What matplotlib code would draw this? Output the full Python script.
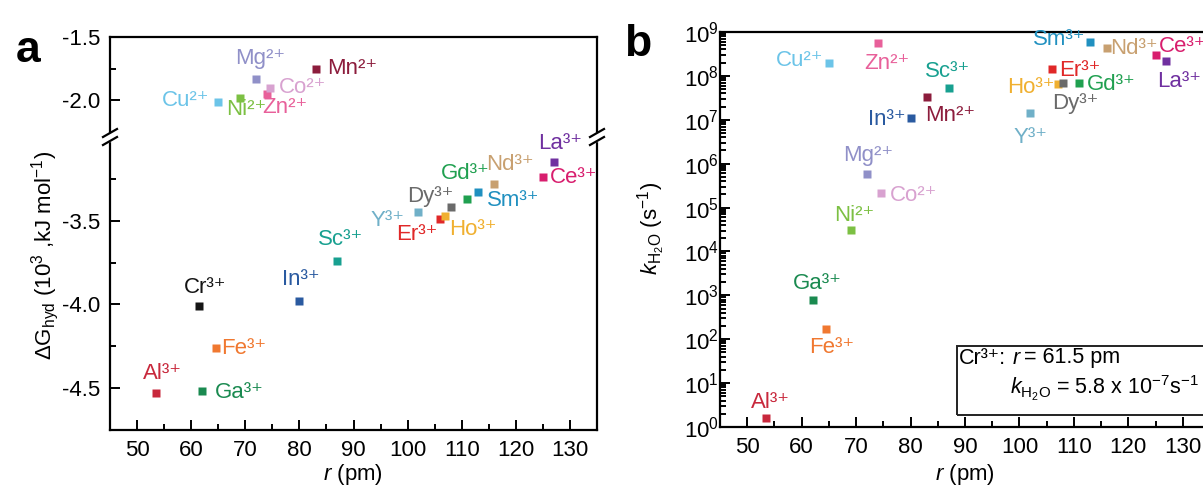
"""
Hydration free energy and water-exchange rate vs ionic radius (two panels).
"""

import matplotlib
matplotlib.use("Agg")
import matplotlib.pyplot as plt
from matplotlib.lines import Line2D
from matplotlib.patches import Rectangle
from matplotlib.ticker import MultipleLocator, LogLocator, FixedLocator

plt.rcParams["font.family"] = ["Liberation Sans", "DejaVu Sans"]
plt.rcParams["mathtext.fontset"] = "custom"
plt.rcParams["mathtext.rm"] = "Liberation Sans"
plt.rcParams["mathtext.it"] = "Liberation Sans:italic"
plt.rcParams["mathtext.bf"] = "Liberation Sans:bold"
plt.rcParams["mathtext.sf"] = "Liberation Sans"
plt.rcParams["mathtext.default"] = "regular"
plt.rcParams["axes.unicode_minus"] = False

# ---- data ----
IONS    = ["Al", "Cr", "Ga", "Fe", "Cu", "Ni", "Mg", "Zn", "Co", "In", "Mn",
           "Sc", "Y", "Er", "Ho", "Dy", "Gd", "Sm", "Nd", "Ce", "La"]
CHARGE  = ["³⁺", "³⁺", "³⁺", "³⁺", "²⁺", "²⁺", "²⁺", "²⁺", "²⁺", "³⁺", "²⁺",
           "³⁺", "³⁺", "³⁺", "³⁺", "³⁺", "³⁺", "³⁺", "³⁺", "³⁺", "³⁺"]
R_PM    = [53.5, 61.5, 62.0, 64.5, 65.0, 69.0, 72.0, 74.0, 74.5, 80.0, 83.0,
           87.0, 102.0, 106.0, 107.0, 108.0, 111.0, 113.0, 116.0, 125.0, 127.0]
DG_HYD  = [-4.53, -4.01, -4.52, -4.26, -2.01, -1.98, -1.83, -1.95, -1.90, -3.98, -1.75,
           -3.74, -3.45, -3.49, -3.47, -3.42, -3.37, -3.33, -3.28, -3.24, -3.15]
# water exchange rate, Cr3+ is not plotted (None)
K_H2O   = [1.6, None, 780, 170, 2.0e8, 3.1e4, 5.8e5, 5.6e8, 2.1e5, 1.1e7, 3.3e7,
           5.3e7, 1.4e7, 1.4e8, 6.5e7, 6.8e7, 6.8e7, 5.9e8, 4.3e8, 3.0e8, 2.2e8]

COLORS = {
    "Al": "#c8283c", "Cr": "#151515", "Ga": "#1a8a50", "Fe": "#f07830",
    "Cu": "#6cc4e8", "Ni": "#7cc043", "Mg": "#9090c8", "Zn": "#e8609a",
    "Co": "#d8a2d0", "In": "#2a5aa0", "Mn": "#8c1c3c", "Sc": "#18a090",
    "Y": "#70b0c8", "Er": "#e02828", "Ho": "#f0b030", "Dy": "#6a6a6a",
    "Gd": "#20a050", "Sm": "#2090c0", "Nd": "#c8a070", "Ce": "#d81e6e",
    "La": "#7030a0",
}

# label offsets in pixels (dx, dy, ha)
LAB_A = {
    "Mg": (4, 20, "center"), "Cu": (-9, 1, "right"), "Ni": (-14, -12, "left"),
    "Zn": (-5, -14, "left"), "Co": (9, 0, "left"), "Mn": (12, 0, "left"),
    "La": (6, 19, "center"), "Ce": (7, 0, "left"), "Nd": (16, 19, "center"),
    "Gd": (-2, 25, "center"), "Sm": (9, -8, "left"), "Dy": (-21, 11, "center"),
    "Y": (-31, -8, "center"), "Er": (-23, -15, "center"), "Ho": (4, -14, "left"),
    "Sc": (3, 21, "center"), "In": (1, 22, "center"), "Cr": (6, 19, "center"),
    "Fe": (6, -1, "left"), "Al": (6, 20, "center"), "Ga": (13, -1, "left"),
}
LAB_B = {
    "Cu": (-6, 2, "right"), "Zn": (9, -20, "center"), "In": (-5, -2, "right"),
    "Mn": (-2, -18, "left"), "Sc": (-1, 16, "center"), "Mg": (1, 19, "center"),
    "Co": (9, -2, "left"), "Ni": (4, 14, "center"), "Ga": (5, 17, "center"),
    "Fe": (6, -18, "center"), "Al": (4, 16, "center"), "Y": (0, -24, "center"),
    "Sm": (-5, 3, "right"), "Nd": (4, 0, "left"), "Ce": (3, 8, "left"),
    "La": (13, -21, "center"), "Er": (7, -1, "left"), "Ho": (-3, -3, "right"),
    "Dy": (12, -20, "center"), "Gd": (8, -1, "left"),
}

W, H = 1203, 486
fig = plt.figure(figsize=(W / 100, H / 100), dpi=100)


def px_axes(left, top, right, bottom):
    return fig.add_axes([left / W, 1 - bottom / H, (right - left) / W, (bottom - top) / H])


def ftext(px, py, s, **kw):
    return fig.text(px / W, 1 - py / H, s, **kw)


def style(ax):
    for s in ax.spines.values():
        s.set_linewidth(1.6)
    ax.tick_params(which="both", direction="in", top=False, right=False,
                   labelsize=16, width=1.4)
    ax.tick_params(which="major", length=7, pad=7)
    ax.tick_params(which="minor", length=4)


def label(ax, name, charge, x, y, off):
    dx, dy, ha = off
    ax.annotate(name + charge, (x, y), xytext=(dx, dy),
                textcoords="offset pixels", ha=ha, va="center",
                fontsize=16, color=COLORS[name], annotation_clip=False)


# ---- panel a: broken y axis ----
ax_up = px_axes(110, 37, 597, 137)
ax_lo = px_axes(110, 137, 597, 430)
for ax in (ax_up, ax_lo):
    style(ax)
    ax.set_xlim(45, 135)
    ax.xaxis.set_major_locator(MultipleLocator(10))
    ax.xaxis.set_minor_locator(MultipleLocator(5))
ax_up.set_ylim(-2.29, -1.5)
ax_up.yaxis.set_major_locator(FixedLocator([-2.0, -1.5]))
ax_up.yaxis.set_minor_locator(FixedLocator([-1.75]))
ax_up.set_yticklabels(["-2.0", "-1.5"])
ax_up.spines["bottom"].set_visible(False)
ax_up.tick_params(axis="x", which="both", bottom=False, labelbottom=False)
ax_lo.set_ylim(-4.75, -3.0)
ax_lo.yaxis.set_major_locator(FixedLocator([-4.5, -4.0, -3.5]))
ax_lo.yaxis.set_minor_locator(FixedLocator([-4.25, -3.75, -3.25]))
ax_lo.set_yticklabels(["-4.5", "-4.0", "-3.5"])
ax_lo.spines["top"].set_visible(False)

for name, ch, r, g in zip(IONS, CHARGE, R_PM, DG_HYD):
    ax = ax_up if g > -2.5 else ax_lo
    ax.plot(r, g, "s", ms=5.2, color=COLORS[name], mec="none")
    label(ax, name, ch, r, g, LAB_A[name])


def break_mark(px, py):
    f = lambda x, y: (x / W, 1 - y / H)
    gap = Rectangle(f(px - 2, py + 4), 4 / W, 8 / H, transform=fig.transFigure,
                    color="white", zorder=10)
    fig.add_artist(gap)
    for d in (-4, 4):
        x0, y0 = f(px - 7, py + 4 + d)
        x1, y1 = f(px + 7, py - 4 + d)
        fig.add_artist(Line2D([x0, x1], [y0, y1], transform=fig.transFigure,
                              color="black", lw=1.6, zorder=11))


break_mark(110, 137)
break_mark(597, 137)

ftext(45, 255, "ΔG$_{hyd}$ (10$^{3}$ ,kJ mol$^{-1}$)",
      rotation=90, ha="center", va="center", fontsize=16)
ftext(353, 474, "$\\mathit{r}$ (pm)", ha="center", va="center", fontsize=16)
ftext(28, 50, "a", ha="center", va="center", fontsize=32, fontweight="bold")

# ---- panel b: log scale ----
axb = px_axes(720, 32, 1210, 427)
style(axb)
axb.set_yscale("log")
axb.set_xlim(45, 135)
axb.set_ylim(1, 1e9)
axb.xaxis.set_major_locator(MultipleLocator(10))
axb.xaxis.set_minor_locator(MultipleLocator(5))
axb.yaxis.set_major_locator(LogLocator(base=10, numticks=12))
axb.yaxis.set_minor_locator(LogLocator(base=10, subs=range(2, 10), numticks=12))
axb.tick_params(axis="y", which="major", pad=1)

for name, ch, r, k in zip(IONS, CHARGE, R_PM, K_H2O):
    if k is None:
        continue
    axb.plot(r, k, "s", ms=5.2, color=COLORS[name], mec="none")
    label(axb, name, ch, r, k, LAB_B[name])

ftext(652, 228, "$\\mathit{k}_{H_2O}$ (s$^{-1}$)",
      rotation=90, ha="center", va="center", fontsize=16)
ftext(965, 474, "$\\mathit{r}$ (pm)", ha="center", va="center", fontsize=16)
ftext(638, 45, "b", ha="center", va="center", fontsize=32, fontweight="bold")

# note box about Cr3+
box = Rectangle((957 / W, 1 - 415 / H), 260 / W, 69 / H, transform=fig.transFigure,
                fill=False, ec="#222222", lw=1.4)
fig.add_artist(box)
ftext(959, 358, "Cr³⁺:", ha="left", va="center", fontsize=15.5)
ftext(1013, 358, "r", ha="left", va="center", fontsize=15.5, style="italic")
ftext(1024, 358, "= 61.5 pm", ha="left", va="center", fontsize=15.5)
ftext(1010, 388, "$\\mathit{k}_{H_2O}$ = 5.8 x 10$^{-7}$s$^{-1}$",
      ha="left", va="center", fontsize=15.5)

fig.savefig("out.png", dpi=100)
